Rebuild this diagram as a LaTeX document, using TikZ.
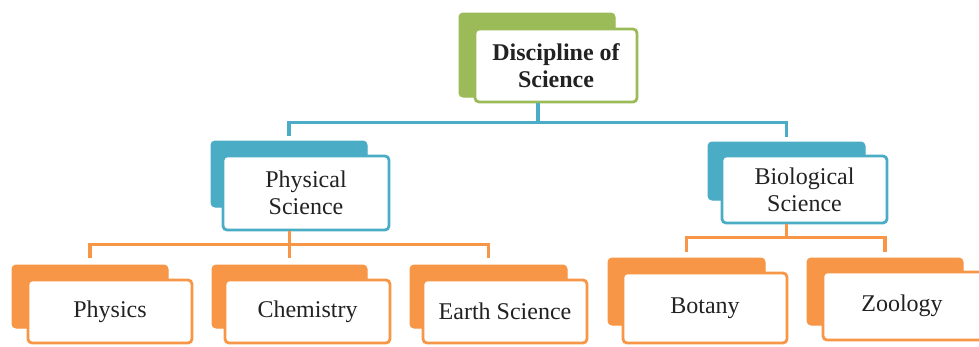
\documentclass[tikz,border=0pt]{standalone}
\usepackage{fontspec}
\setmainfont{Liberation Serif}
\definecolor{grn}{HTML}{9BBB59}
\definecolor{blu}{HTML}{4BACC6}
\definecolor{org}{HTML}{F79646}
\definecolor{txt}{HTML}{222222}
\newcommand{\dn}[1]{\raisebox{-3pt}{#1}}
\begin{document}
\begin{tikzpicture}[x=1pt,y=-1pt,
  backbox/.style={fill=#1, draw=#1, line width=1pt, rounded corners=4pt, inner sep=0pt},
  frontbox/.style={fill=white, draw=#1, line width=2.8pt, rounded corners=4pt, inner sep=0pt,
    align=center, text=txt, font=\fontsize{24}{27}\selectfont},
  bline/.style={draw=blu, line width=3.4pt},
  oline/.style={draw=org, line width=3.2pt}]
\useasboundingbox (0,0) rectangle (979,346);
\clip (0,0) rectangle (979,346);
% top
\node[backbox=grn, minimum width=156pt, minimum height=84pt] (topb) at (537,55) {};
\node[frontbox=grn, minimum width=162pt, minimum height=73pt, font=\fontsize{24}{27}\selectfont\bfseries] (topf) at (556,65.5) {Discipline of\\Science};
% second level
\node[backbox=blu, minimum width=156pt, minimum height=66pt] (physb) at (289,174) {};
\node[frontbox=blu, minimum width=166pt, minimum height=74pt] (physf) at (306,193) {Physical\\Science};
\node[backbox=blu, minimum width=157pt, minimum height=58pt] (biob) at (786.5,171) {};
\node[frontbox=blu, minimum width=165pt, minimum height=67pt] (biof) at (804.5,189.5) {Biological\\Science};
% third level
\node[backbox=org, minimum width=156pt, minimum height=63pt] (phyb) at (90,296.5) {};
\node[frontbox=org, minimum width=164pt, minimum height=63pt] (phyf) at (110,311.5) {\dn{Physics}};
\node[backbox=org, minimum width=155pt, minimum height=63pt] (chemb) at (289.5,296.5) {};
\node[frontbox=org, minimum width=165pt, minimum height=63pt] (chemf) at (307.5,311.5) {\dn{Chemistry}};
\node[backbox=org, minimum width=157pt, minimum height=63pt] (earthb) at (488.5,296.5) {};
\node[frontbox=org, minimum width=164pt, minimum height=63pt] (earthf) at (505,311.5) {\dn{Earth Science}};
\node[backbox=org, minimum width=157pt, minimum height=67pt] (botb) at (686.5,291.5) {};
\node[frontbox=org, minimum width=164pt, minimum height=70pt] (botf) at (705,308) {\dn{Botany}};
\node[backbox=org, minimum width=156pt, minimum height=67pt] (zoob) at (885,291.5) {};
\node[frontbox=org, minimum width=164pt, minimum height=68pt] (zoof) at (905,306) {};
\node[text=txt, font=\fontsize{24}{27}\selectfont] (zool) at (902,306) {\dn{Zoology}};
% connectors
\coordinate (tj) at (538,123);
\draw[bline] (tj |- topf.south) -- (tj);
\draw[bline] ([yshift=5pt]physb.north) -- ++(0,-13) -| ([yshift=5pt]biob.north);
\draw[oline] (chemb.north |- physf.south) -- ([yshift=7pt]chemb.north);
\draw[oline] ([yshift=7pt]phyb.north) -- ++(0,-13) -| ([yshift=7pt]earthb.north);
\draw[oline] (biob.south |- biof.south) -- ++(0,15);
\draw[oline] ([yshift=6pt]botb.north) -- ++(0,-14) -| ([yshift=6pt]zoob.north);
\end{tikzpicture}
\end{document}
